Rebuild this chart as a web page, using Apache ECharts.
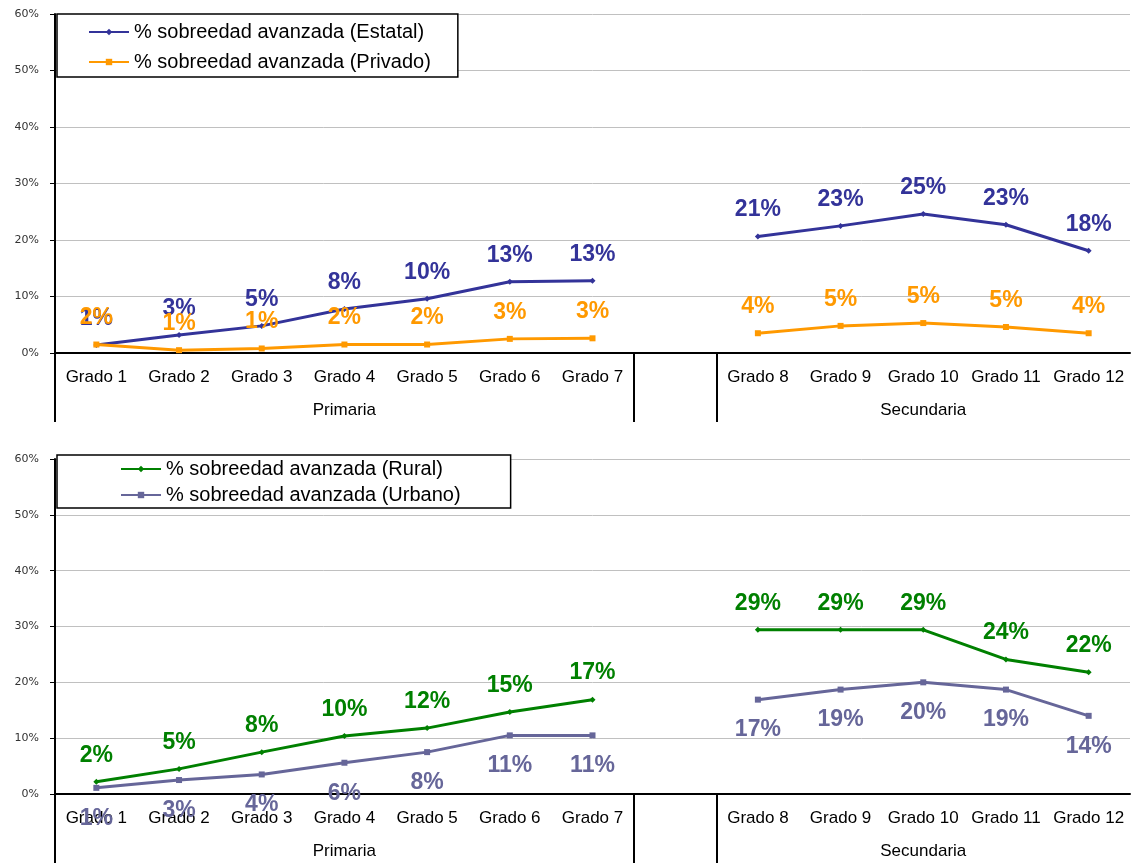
<!DOCTYPE html>
<html>
<head>
<meta charset="utf-8">
<script src="https://cdn.jsdelivr.net/npm/echarts@6/dist/echarts.min.js"></script>
<style>
  html, body { margin: 0; padding: 0; background: #fff; }
  #chart { width: 1134px; height: 863px; }
</style>
</head>
<body>
<div id="chart"></div>
<script>
// grados, con un hueco entre primaria y secundaria
var categories = ['Grado 1', 'Grado 2', 'Grado 3', 'Grado 4', 'Grado 5', 'Grado 6', 'Grado 7', '',
  'Grado 8', 'Grado 9', 'Grado 10', 'Grado 11', 'Grado 12'];
var groupLabels = ['Primaria', 'Secundaria'];
var groupCenters = [3.5, 10.5];
var groupEdges = [0, 7, 8];

// % sobreedad avanzada
var estatal = [1.4, 3.2, 4.8, 7.8, 9.6, 12.6, 12.8, null, 20.6, 22.5, 24.6, 22.7, 18.1];
var privado = [1.5, 0.5, 0.8, 1.5, 1.5, 2.5, 2.6, null, 3.5, 4.8, 5.3, 4.6, 3.5];
var rural = [2.2, 4.5, 7.5, 10.4, 11.8, 14.7, 16.9, null, 29.4, 29.4, 29.4, 24.1, 21.8];
var urbano = [1.1, 2.5, 3.5, 5.6, 7.5, 10.5, 10.5, null, 16.9, 18.7, 20.0, 18.7, 14.0];

var names = ['% sobreedad avanzada (Estatal)', '% sobreedad avanzada (Privado)',
  '% sobreedad avanzada (Rural)', '% sobreedad avanzada (Urbano)'];

var myChart = echarts.init(document.getElementById('chart'));

function catAxis(grid) {
  return {
    type: 'category', gridIndex: grid, data: categories, boundaryGap: true,
    axisLine: { lineStyle: { color: '#000', width: 2 } },
    axisTick: { length: 35, lineStyle: { color: '#000', width: 2 } },
    axisLabel: { interval: 0, margin: 16, color: '#000', fontSize: 17, fontFamily: 'Liberation Sans' }
  };
}

function groupAxis(grid) {
  return {
    type: 'value', gridIndex: grid, position: 'bottom', min: 0, max: 13,
    axisLine: { show: false },
    splitLine: { show: false },
    axisTick: { show: true, customValues: groupEdges, length: 69, lineStyle: { color: '#000', width: 2 } },
    axisLabel: {
      customValues: groupCenters, margin: 49, color: '#000', fontSize: 17, fontFamily: 'Liberation Sans',
      formatter: function (v) { return v < 7 ? groupLabels[0] : groupLabels[1]; }
    }
  };
}

function valAxis(grid) {
  return {
    type: 'value', gridIndex: grid, min: 0, max: 60, interval: 10,
    axisLine: { show: true, lineStyle: { color: '#000', width: 2 } },
    axisTick: { show: true, length: 5, lineStyle: { color: '#000', width: 1 } },
    splitLine: { lineStyle: { color: '#c0c0c0', width: 1 } },
    axisLabel: { formatter: '{value}%', margin: 16, color: '#333', fontSize: 11, fontFamily: 'DejaVu Sans' }
  };
}

function line(name, data, color, symbol, pos, xi, yi) {
  return {
    name: name, type: 'line', xAxisIndex: xi, yAxisIndex: yi, data: data,
    connectNulls: false, symbol: symbol, symbolSize: 6,
    lineStyle: { color: color, width: 3 },
    itemStyle: { color: color },
    label: {
      show: true, position: pos, distance: pos == 'top' ? 12 : 16, color: color,
      fontSize: 23, fontWeight: 'bold', fontFamily: 'Liberation Sans',
      formatter: function (p) { return Math.round(p.value) + '%'; }
    }
  };
}

function legend(data, top, padding, gap) {
  return {
    data: data, orient: 'vertical', left: 57, top: top, padding: padding, itemGap: gap,
    itemWidth: 40, itemHeight: 8,
    backgroundColor: '#fff', borderColor: '#000', borderWidth: 1.5,
    textStyle: { color: '#000', fontSize: 20, fontFamily: 'Liberation Sans', lineHeight: 20 }
  };
}

var option = {
  animation: false,
  backgroundColor: '#fff',
  grid: [
    { left: 55, top: 14, width: 1075, height: 339 },
    { left: 55, top: 459, width: 1075, height: 335 }
  ],
  legend: [
    legend([names[0], names[1]], 14, [8, 27, 5, 31], 10),
    legend([names[2], names[3]], 455, [4, 50, 3, 63], 6)
  ],
  xAxis: [catAxis(0), groupAxis(0), catAxis(1), groupAxis(1)],
  yAxis: [valAxis(0), valAxis(1)],
  series: [
    line(names[0], estatal, '#333399', 'diamond', 'top', 0, 0),
    line(names[1], privado, '#ff9900', 'rect', 'top', 0, 0),
    line(names[2], rural, '#008000', 'diamond', 'top', 2, 1),
    line(names[3], urbano, '#666699', 'rect', 'bottom', 2, 1)
  ]
};

myChart.setOption(option);
</script>
</body>
</html>
